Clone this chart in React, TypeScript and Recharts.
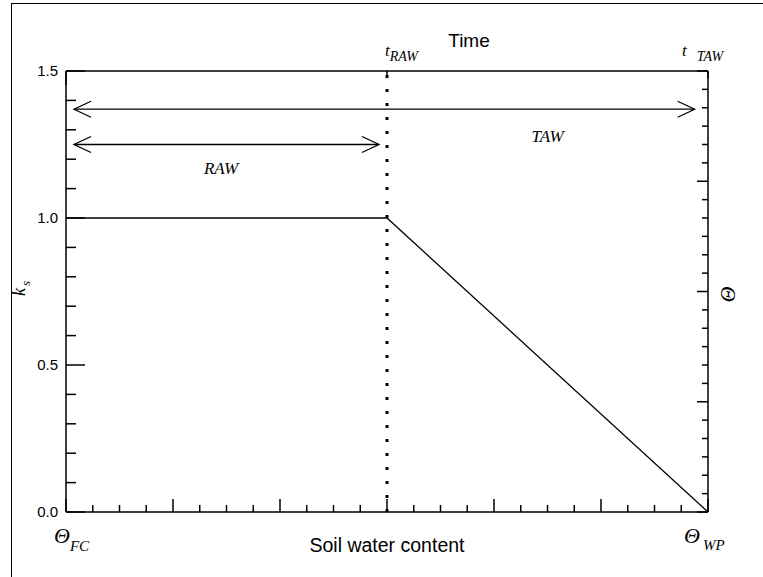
import { Line, LineChart, ReferenceDot, ReferenceLine, XAxis, YAxis } from "recharts";

// bottom axis: soil water content from field capacity (0) to wilting point (24)
const soilWater = [0, 12, 24];
const ksValues = [1.0, 1.0, 0.0];

const bottomTicks = [0, 1, 2, 3, 4, 5, 6, 7, 8, 9, 10, 11, 12, 13, 14, 15, 16, 17, 18, 19, 20, 21, 22, 23, 24];
const topTicks = [0, 1, 2, 3, 4, 5, 6, 7, 8, 9, 10, 11, 12, 13, 14, 15];
const ksTicks = [0, 0.1, 0.2, 0.3, 0.4, 0.5, 0.6, 0.7, 0.8, 0.9, 1.0, 1.1, 1.2, 1.3, 1.4, 1.5];
const ksTickLabels = ["0.0", "0.5", "1.0", "1.5"];
const thetaTicks = [0, 1, 2, 3, 4, 5, 6, 7, 8, 9, 10, 11, 12, 13, 14, 15, 16, 17, 18, 19, 20, 21, 22, 23, 24];

const tRaw = 12;
const tTaw = [24, 1.5];
const tawArrow = [0.3, 23.5];
const tawY = 1.37;
const rawArrow = [0.3, 11.7];
const rawY = 1.25;
const tawText = [18, 1.28];
const rawText = [5.8, 1.17];

const data = soilWater.map((x, i) => ({ x, ks: ksValues[i] }));

const SANS = "Liberation Sans, Arial, Helvetica, sans-serif";
const SERIF = "Liberation Serif, Times New Roman, serif";
const AX = { stroke: "#000", strokeWidth: 1.5 };

function BottomTick(props: any) {
  const { x, y, payload } = props;
  const v = payload.value;
  const len = v % 4 === 0 ? 13 : 7;
  return (
    <g>
      <line x1={x} y1={y} x2={x} y2={y - len} stroke="#000" strokeWidth={1.5} />
      {v === 0 && (
        <text x={x - 12} y={y + 31} fontFamily={SERIF} fontStyle="italic" fontSize={22} fill="#000">
          Θ<tspan fontSize={15} dy={8}>FC</tspan>
        </text>
      )}
      {v === 24 && (
        <text x={x - 24} y={y + 31} fontFamily={SERIF} fontStyle="italic" fontSize={22} fill="#000">
          Θ<tspan fontSize={15} dx={3} dy={7}>WP</tspan>
        </text>
      )}
    </g>
  );
}

function TopTick(props: any) {
  const { x, y, payload } = props;
  const len = payload.value % 5 === 0 ? 14 : 7;
  return <line x1={x} y1={y} x2={x} y2={y + len} stroke="#000" strokeWidth={1.5} />;
}

function LeftTick(props: any) {
  const { x, y, payload } = props;
  const v = payload.value;
  const major = Math.round(v * 10) % 5 === 0;
  const label = major ? v.toFixed(1) : "";
  return (
    <g>
      <line x1={x} y1={y} x2={x + (major ? 19 : 10)} y2={y} stroke="#000" strokeWidth={1.5} />
      {ksTickLabels.includes(label) && (
        <text x={x - 8} y={y + 5} textAnchor="end" fontFamily={SANS} fontSize={15} fill="#000">
          {label}
        </text>
      )}
    </g>
  );
}

function RightTick(props: any) {
  const { x, y, payload } = props;
  const len = payload.value % 6 === 0 ? 11 : 6;
  return <line x1={x} y1={y} x2={x - len} y2={y} stroke="#000" strokeWidth={1.5} />;
}

function Arrow(props: any) {
  const { x1, y1, x2, y2 } = props;
  const h = 17;
  const w = 8;
  return (
    <g fill="none" stroke="#000" strokeWidth={1.3}>
      <line x1={x1} y1={y1} x2={x2} y2={y2} />
      <polyline points={`${x1 + h},${y1 - w} ${x1},${y1} ${x1 + h},${y1 + w}`} />
      <polyline points={`${x2 - h},${y2 - w} ${x2},${y2} ${x2 - h},${y2 + w}`} />
    </g>
  );
}

export default function App() {
  return (
    <div style={{ position: "absolute", left: 0, top: 0, width: 763, height: 577, overflow: "hidden", background: "#fff" }}>
      <div
        style={{
          position: "absolute",
          left: 11,
          top: 3,
          width: 900,
          height: 900,
          borderLeft: "1.5px solid #000",
          borderTop: "1.5px solid #000",
        }}
      />
      <div style={{ position: "absolute", left: 0, top: 0 }}>
        <LineChart width={763} height={577} data={data} margin={{ top: 20, right: 10, bottom: 10, left: 10 }}>
          <XAxis
            xAxisId="bottom"
            dataKey="x"
            type="number"
            domain={[0, 24]}
            ticks={bottomTicks}
            interval={0}
            allowDataOverflow
            height={55}
            axisLine={AX}
            tickLine={false}
            tickSize={0}
            tickMargin={0}
            tick={BottomTick}
            label={{
              content: ({ viewBox }: any) => (
                <text x={viewBox.x + viewBox.width / 2} y={viewBox.y + 40} textAnchor="middle" fontFamily={SANS} fontSize={19.5} fill="#000">
                  Soil water content
                </text>
              ),
            }}
          />
          <XAxis
            xAxisId="top"
            orientation="top"
            type="number"
            domain={[0, 15]}
            ticks={topTicks}
            interval={0}
            allowDataOverflow
            height={51}
            axisLine={AX}
            tickLine={false}
            tickSize={0}
            tickMargin={0}
            tick={TopTick}
            label={{
              content: ({ viewBox }: any) => (
                <text x={viewBox.x + viewBox.width / 2 + 82} y={viewBox.y + 27} textAnchor="middle" fontFamily={SANS} fontSize={19} fill="#000">
                  Time
                </text>
              ),
            }}
          />
          <YAxis
            yAxisId="left"
            type="number"
            domain={[0, 1.5]}
            ticks={ksTicks}
            interval={0}
            allowDataOverflow
            width={56}
            axisLine={AX}
            tickLine={false}
            tickSize={0}
            tickMargin={0}
            tick={LeftTick}
            label={{
              content: ({ viewBox }: any) => {
                const cx = viewBox.x + 15;
                const cy = viewBox.y + 225;
                return (
                  <text x={cx} y={cy} transform={`rotate(-90, ${cx}, ${cy})`} fontFamily={SERIF} fontStyle="italic" fontSize={18} fill="#000">
                    k<tspan fontSize={13} dx={2} dy={5}>s</tspan>
                  </text>
                );
              },
            }}
          />
          <YAxis
            yAxisId="right"
            orientation="right"
            type="number"
            domain={[0, 24]}
            ticks={thetaTicks}
            interval={0}
            allowDataOverflow
            width={45}
            axisLine={AX}
            tickLine={false}
            tickSize={0}
            tickMargin={0}
            tick={RightTick}
            label={{
              content: ({ viewBox }: any) => {
                const cx = viewBox.x + 13;
                const cy = viewBox.y + 223;
                return (
                  <text x={cx} y={cy} transform={`rotate(90, ${cx}, ${cy})`} textAnchor="middle" fontFamily={SERIF} fontStyle="italic" fontSize={22} fill="#000">
                    Θ
                  </text>
                );
              },
            }}
          />
          <ReferenceLine
            xAxisId="bottom"
            yAxisId="left"
            x={tRaw}
            stroke="#000"
            strokeWidth={3}
            strokeDasharray="3 11"
            label={({ viewBox }: any) => (
              <text x={viewBox.x - 2} y={viewBox.y - 15} fontFamily={SERIF} fontStyle="italic" fontSize={17} fill="#000">
                t<tspan fontSize={14} dy={5}>RAW</tspan>
              </text>
            )}
          />
          <ReferenceDot
            xAxisId="bottom"
            yAxisId="left"
            x={tTaw[0]}
            y={tTaw[1]}
            r={0}
            fill="none"
            stroke="none"
            label={({ viewBox }: any) => (
              <text x={viewBox.x - 26} y={viewBox.y - 15} fontFamily={SERIF} fontStyle="italic" fontSize={17} fill="#000">
                t<tspan fontSize={14} dx={10} dy={5}>TAW</tspan>
              </text>
            )}
          />
          <ReferenceLine
            xAxisId="bottom"
            yAxisId="left"
            segment={[{ x: tawArrow[0], y: tawY }, { x: tawArrow[1], y: tawY }]}
            shape={Arrow}
          />
          <ReferenceLine
            xAxisId="bottom"
            yAxisId="left"
            segment={[{ x: rawArrow[0], y: rawY }, { x: rawArrow[1], y: rawY }]}
            shape={Arrow}
          />
          <ReferenceDot
            xAxisId="bottom"
            yAxisId="left"
            x={tawText[0]}
            y={tawText[1]}
            r={0}
            fill="none"
            stroke="none"
            label={{ value: "TAW", position: "center", fill: "#000", fontFamily: SERIF, fontStyle: "italic", fontSize: 17 }}
          />
          <ReferenceDot
            xAxisId="bottom"
            yAxisId="left"
            x={rawText[0]}
            y={rawText[1]}
            r={0}
            fill="none"
            stroke="none"
            label={{ value: "RAW", position: "center", fill: "#000", fontFamily: SERIF, fontStyle: "italic", fontSize: 17 }}
          />
          <Line
            xAxisId="bottom"
            yAxisId="left"
            type="linear"
            dataKey="ks"
            stroke="#000"
            strokeWidth={1.3}
            dot={false}
            isAnimationActive={false}
          />
        </LineChart>
      </div>
    </div>
  );
}
